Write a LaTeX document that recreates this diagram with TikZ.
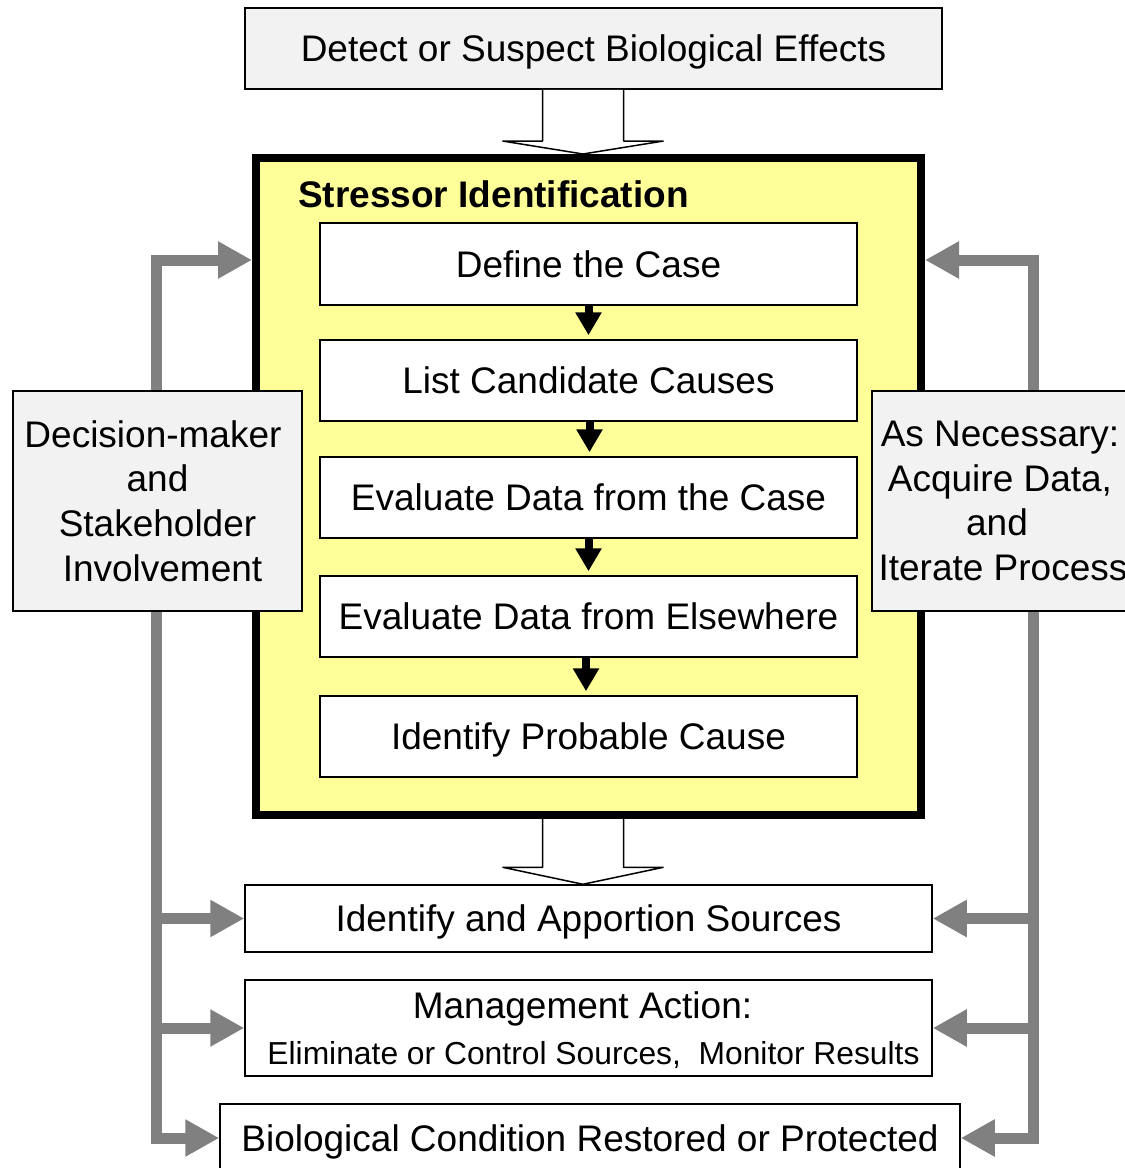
\documentclass[tikz,border=0pt]{standalone}
\usepackage{fontspec}
\setmainfont{Liberation Sans}
\usetikzlibrary{arrows.meta,calc}
\definecolor{siyellow}{HTML}{FFFF99}
\definecolor{boxgray}{HTML}{F2F2F2}
\definecolor{linkgray}{HTML}{808080}
\begin{document}
\begin{tikzpicture}[x=1pt,y=-1pt,
  font=\fontsize{37}{44.7}\selectfont,
  graybox/.style={draw, line width=1.5pt, fill=boxgray, inner sep=0pt, align=center},
  whitebox/.style={draw, line width=1.5pt, fill=white, inner sep=0pt, align=center, text depth=0pt},
  blockarrow/.style={draw, line width=1.5pt, fill=white, line join=bevel},
  steparrow/.style={line width=8pt, -{Triangle[length=23pt,width=25pt]}, shorten >=4pt},
  feedback/.style={draw=linkgray, line width=11pt, -{Triangle[length=34pt,width=35pt]}, line join=miter}]
\clip (0,0) rectangle (1125,1168);

% top box
\node[graybox, text depth=0pt, minimum width=697pt, minimum height=81pt] (detect) at (593.5,48.5) {Detect or Suspect Biological Effects};

% stressor identification frame
\node[draw, line width=8pt, fill=siyellow, minimum width=665pt, minimum height=657pt, inner sep=0pt] (si) at (588.5,486.5) {};
\node[anchor=west, inner sep=0pt, font=\fontsize{37}{44.7}\selectfont\bfseries] (title) at (298,194) {Stressor Identification};

\node[whitebox, minimum width=537pt, minimum height=82pt] (s1) at (588.5,264) {Define the Case};
\node[whitebox, minimum width=537pt, minimum height=81pt] (s2) at (588.5,380.5) {List Candidate Causes};
\node[whitebox, minimum width=537pt, minimum height=81pt] (s3) at (588.5,497.5) {Evaluate Data from the Case};
\node[whitebox, minimum width=537pt, minimum height=81pt] (s4) at (588.5,616.5) {Evaluate Data from Elsewhere};
\node[whitebox, minimum width=537pt, minimum height=81pt] (s5) at (588.5,736.5) {Identify Probable Cause};

\draw[steparrow] (s1.south) -- (s2.north);
\draw[steparrow] ([xshift=1pt]s2.south) -- ([xshift=1pt]s3.north);
\draw[steparrow] (s3.south) -- (s4.north);
\draw[steparrow] ([xshift=-2.5pt]s4.south) -- ([xshift=-2.5pt]s5.north);

% side boxes
\node[graybox, minimum width=289pt, minimum height=220pt] (dm) at (157.5,501) {Decision-maker\hspace*{9pt}\\and\hspace*{10pt}\\Stakeholder\\\hspace*{10pt}Involvement};
\node[graybox, minimum width=256pt, minimum height=220pt] (an) at (1000,501) {As Necessary:\\Acquire Data,\\\hspace*{-6pt}and\\\hspace*{6pt}Iterate Process};

% bottom boxes
\node[whitebox, minimum width=687pt, minimum height=67pt] (ident) at (588.5,918.5) {Identify and Apportion Sources};
\node[whitebox, text depth=-5pt, minimum width=687pt, minimum height=96pt] (mgmt) at (588.5,1028) {Management Action:\hspace*{12pt}\\[2pt]{\fontsize{31.8}{38}\selectfont\hspace*{10pt}Eliminate or Control Sources,\ \ Monitor Results}};
\node[whitebox, minimum width=740pt, minimum height=68pt] (bio) at (590,1138) {Biological Condition Restored or Protected};

% block arrows
\coordinate (ax) at (583,0);
\draw[blockarrow] ($(detect.south -| ax)+(-40.5,0)$) -- ($(si.north -| ax)+(-40.5,-13)$) -- ($(si.north -| ax)+(-80.5,-13)$) -- (si.north -| ax) -- ($(si.north -| ax)+(80.5,-13)$) -- ($(si.north -| ax)+(40.5,-13)$) -- ($(detect.south -| ax)+(40.5,0)$);
\draw[blockarrow] ($(si.south -| ax)+(-40.5,0)$) -- ($(ident.north -| ax)+(-40.5,-17)$) -- ($(ident.north -| ax)+(-80.5,-17)$) -- (ident.north -| ax) -- ($(ident.north -| ax)+(80.5,-17)$) -- ($(ident.north -| ax)+(40.5,-17)$) -- ($(si.south -| ax)+(40.5,0)$);

% feedback connectors
\coordinate (lv) at (156,0);
\coordinate (rv) at (1033,0);
\coordinate (ytop) at (0,260);
\draw[feedback] (dm.north -| lv) |- (si.west |- ytop);
\draw[feedback] (an.north -| rv) |- (si.east |- ytop);
\draw[feedback] (dm.south -| lv) |- (bio.west);
\draw[feedback] (an.south -| rv) |- (bio.east);
\draw[feedback] (ident.west -| lv) -- (ident.west);
\draw[feedback] (mgmt.west -| lv) -- (mgmt.west);
\draw[feedback] (ident.east -| rv) -- (ident.east);
\draw[feedback] (mgmt.east -| rv) -- (mgmt.east);
\end{tikzpicture}
\end{document}
